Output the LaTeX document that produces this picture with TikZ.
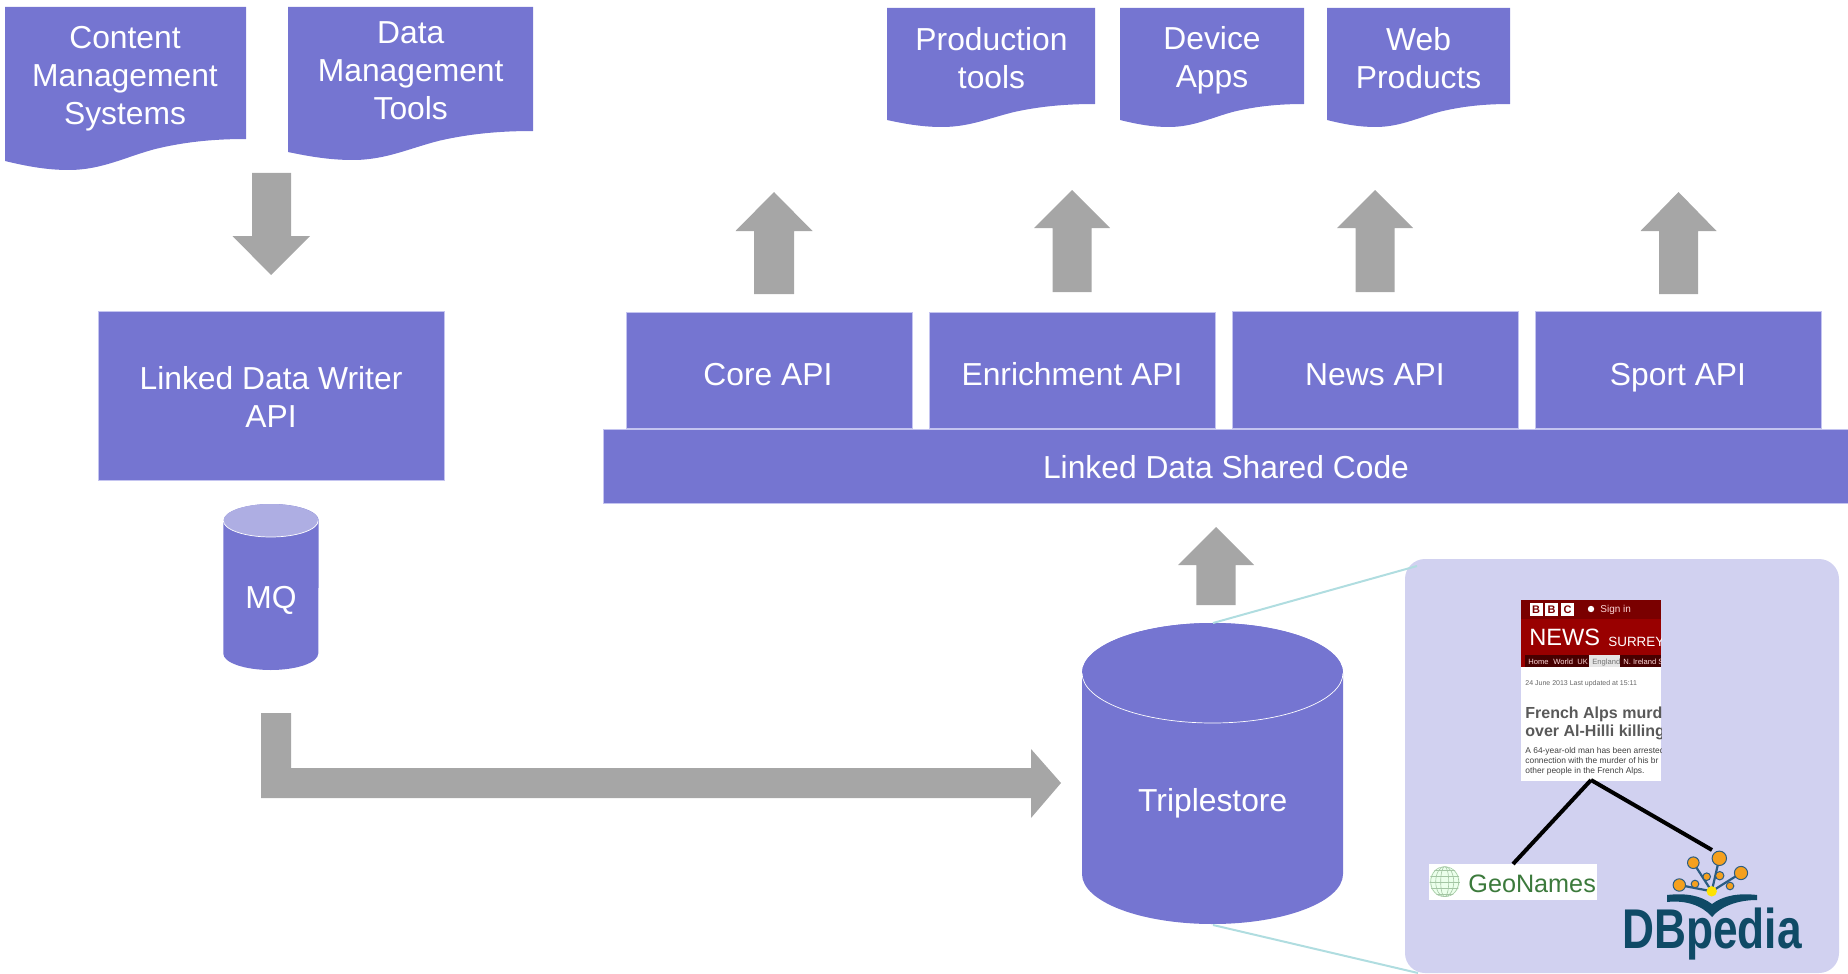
\documentclass[tikz,border=0pt]{standalone}
\usepackage{fontspec}
\setmainfont{Liberation Sans}
\definecolor{pur}{HTML}{7575D1}
\definecolor{purlight}{HTML}{AEAEE3}
\definecolor{edge}{HTML}{C4C4F0}
\definecolor{panelc}{HTML}{D1D1F0}
\definecolor{arrowc}{HTML}{A6A6A6}
\definecolor{tealc}{HTML}{B0DDE0}
\definecolor{dbdark}{HTML}{0F4A66}
\definecolor{dbline}{HTML}{2B5C82}
\definecolor{dborange}{HTML}{F5A01E}
\definecolor{geogreen}{HTML}{3C7A3C}
\definecolor{geogrid}{HTML}{A4C6A4}
\tikzset{
  lbl/.style={inner sep=0pt,text=white,font=\fontsize{15.9}{19}\selectfont,align=center},
  lblbase/.style={lbl,anchor=base},
  boxfill/.style={fill=pur,draw=edge,line width=.25pt},
  docfill/.style={fill=pur},
  gray arrow/.style={fill=arrowc},
  thin text/.style={inner sep=0pt,anchor=base west},
  link/.style={black,line width=2pt},
  zoomline/.style={tealc,line width=1pt},
  dbbranch/.style={dbline,line width=1.1pt},
  dbnode/.style={fill=dborange,draw=dbline,line width=.5pt}
}
\newcommand{\docshape}[6]{% x1 x2 ytop yright yleft ytrough
  \fill[docfill] (#1,#3) -- (#2,#3) -- (#2,#4)
  .. controls ({#1+.86*(#2-#1)},#4) and ({#1+.74*(#2-#1)},{#4+.1*(#6-#4)}) .. ({#1+.62*(#2-#1)},{#4+.33*(#6-#4)})
  .. controls ({#1+.5*(#2-#1)},{#4+.58*(#6-#4)}) and ({#1+.4*(#2-#1)},#6) .. ({#1+.265*(#2-#1)},#6)
  .. controls ({#1+.18*(#2-#1)},#6) and ({#1+.1*(#2-#1)},{#5+.65*(#6-#5)}) .. (#1,#5) -- cycle;}
\newcommand{\blockup}[6]{% cx tip base bottom headhalf shafthalf
  \fill[gray arrow] (#1,#2) -- ({#1+#5},#3) -- ({#1+#6},#3) -- ({#1+#6},#4) -- ({#1-#6},#4) -- ({#1-#6},#3) -- ({#1-#5},#3) -- cycle;}
\newcommand{\drum}[7]{% cx ytopcentre ybottomcentre rx(px) Rx(pt) Ry(pt) topcolour
  \fill[pur] ({#1-#4},#2) -- ({#1-#4},#3) arc[start angle=180,end angle=360,x radius=#5,y radius=#6] -- ({#1+#4},#2) arc[start angle=0,end angle=180,x radius=#5,y radius=#6] -- cycle;
  \fill[#7] (#1,#2) ellipse[x radius=#5,y radius=#6];
  \draw[white,line width=.35pt] ({#1-#4},#2) arc[start angle=180,end angle=360,x radius=#5,y radius=#6];}
\begin{document}
\begin{tikzpicture}[x=.5pt,y=-.5pt]
\useasboundingbox (0,0) rectangle (1848,974);
% top-left documents
\docshape{5}{246}{7}{139}{161}{170}
\node[lbl] (cms) at (125,78.5) {Content\\Management\\Systems};
\docshape{288}{533}{7}{131}{152}{160}
\node[lbl] (dmt) at (410.7,71) {Data\\Management\\Tools};
% down arrow
\fill[gray arrow] (271,275) -- (310,236) -- (291,236) -- (291,173) -- (252,173) -- (252,236) -- (232.5,236) -- cycle;
% writer
\draw[boxfill] (98,311) rectangle (444,480);
\node[lbl] (writer) at (271,397.2) {Linked Data Writer\\API};
% MQ
\drum{271}{520.5}{653.5}{47.75}{23.75pt}{8.25pt}{purlight}
\node[lblbase] (mq) at (271,608) {MQ};
% L arrow
\fill[gray arrow] (261,713) -- (291,713) -- (291,768) -- (1031,768) -- (1031,749) -- (1061,783) -- (1031,818) -- (1031,798) -- (261,798) -- cycle;
% top-right documents
\docshape{887}{1095}{8}{104}{120}{127}
\node[lbl] (prod) at (991.5,57.7) {Production\\tools};
\docshape{1120}{1304}{8}{104}{120}{127}
\node[lbl] (dev) at (1212,60.2) {Device\\Apps};
\docshape{1327}{1510}{8}{104}{120}{127}
\node[lbl] (web) at (1418.6,57.7) {Web\\Products};
% up arrows
\blockup{774}{192}{231}{294}{38.5}{20}
\blockup{1072}{190}{228}{292}{38}{19.5}
\blockup{1375}{190}{228}{292}{38}{19.5}
\blockup{1678.5}{192}{231}{294}{38}{19.5}
\blockup{1216}{527}{565}{605}{38}{19.7}
% APIs
\draw[boxfill] (626,312) rectangle (912.5,428);
\node[lblbase] (core) at (768,385) {Core API};
\draw[boxfill] (929,312) rectangle (1215,428);
\node[lblbase] (enrich) at (1072,385) {Enrichment API};
\draw[boxfill] (1232,311) rectangle (1518,428);
\node[lblbase] (news) at (1375,385) {News API};
\draw[boxfill] (1535,311) rectangle (1821.5,428);
\node[lblbase] (sport) at (1678,385) {Sport API};
\draw[boxfill] (603.5,429) rectangle (1860,503);
\node[lblbase] (shared) at (1226,478) {Linked Data Shared Code};
% panel
\fill[panelc,rounded corners=10pt] (1405,559) rectangle (1839,973);
% triplestore
\drum{1212.5}{673}{874}{130.5}{65.25pt}{25pt}{pur}
\node[lblbase] (ts) at (1212.7,811) {Triplestore};
% zoom lines
\coordinate (tstop) at (1213,623);
\coordinate (tsbot) at (1213,925);
\coordinate (paneltop) at (1417,566);
\coordinate (panelbot) at (1418,973);
\draw[zoomline] (tstop) -- (paneltop);
\draw[zoomline] (tsbot) -- (panelbot);
% BBC page
\fill[white] (1521,600) rectangle (1661,781);
\begin{scope}
\clip (1521,600) rectangle (1661,781);
\fill[red!48!black] (1521,600) rectangle (1661,619);
\fill[red!60!black] (1521,619) rectangle (1661,667);
\fill[red!28!black] (1525,655) rectangle (1661,667);
\fill[black!10] (1589,655) rectangle (1620,667);
\foreach \xx/\ll in {1529.5/B,1545/B,1561/C}{
  \fill[white] (\xx,603) rectangle ({\xx+13},616);
  \node[thin text,anchor=base,text=red!48!black,font=\bfseries\fontsize{5.5}{6}\selectfont] at ({\xx+6.5},613.5) {\ll};}
\fill[white] (1591,609) circle[radius=1.6pt];
\node[thin text,text=white!85!red,font=\fontsize{5}{6}\selectfont] (signin) at (1600,612) {Sign in};
\node[thin text,text=white,font=\fontsize{11.8}{13}\selectfont] (bbcnews) at (1529,645) {NEWS};
\node[thin text,text=white,font=\fontsize{6.7}{9}\selectfont] (surrey) at (1608,646) {SURREY};
\foreach \xx/\ll in {1528/Home,1553/World,1577/UK,1623/N. Ireland,1658/S}{
  \node[thin text,text=white!85!red,font=\fontsize{3.8}{5}\selectfont] at (\xx,664) {\ll};}
\node[thin text,text=black!55,font=\fontsize{3.8}{5}\selectfont] at (1592,664) {England};
\node[thin text,text=black!60,font=\fontsize{3.5}{5}\selectfont] (bbcdate) at (1525,685) {24 June 2013 Last updated at 15:11};
\node[thin text,text=black!65,font=\bfseries\fontsize{8}{10}\selectfont] (head1) at (1525,718) {French Alps murd};
\node[thin text,text=black!65,font=\bfseries\fontsize{8}{10}\selectfont] (head2) at (1525,736) {over Al-Hilli killing};
\node[thin text,text=black!75,font=\fontsize{4.2}{5}\selectfont] (body1) at (1525,753) {A 64-year-old man has been arrested};
\node[thin text,text=black!75,font=\fontsize{4.2}{5}\selectfont] (body2) at (1525,763) {connection with the murder of his br};
\node[thin text,text=black!75,font=\fontsize{4.2}{5}\selectfont] (body3) at (1525,773) {other people in the French Alps.};
\end{scope}
% GeoNames
\fill[white] (1429,864) rectangle (1597,900);
\begin{scope}
\clip (1444.7,881.7) circle[radius=7.6pt];
\fill[green!8!white] (1429,864) rectangle (1461,900);
\foreach \rr in {2,4.5,7}{\draw[geogrid,line width=.3pt] (1444.7,881.7) ellipse[x radius=\rr pt,y radius=7.6pt];}
\foreach \yy in {870,876,882,888,894}{\draw[geogrid,line width=.3pt] (1429,\yy) -- (1461,\yy);}
\end{scope}
\node[thin text,text=geogreen,font=\fontsize{12.6}{14}\selectfont] (geo) at (1468,892) {GeoNames};
% DBpedia
\coordinate (root) at (1711.7,891.3);
\foreach \xx/\yy in {1719.3/858.3,1693.3/862.7,1741/873,1679.3/885}{\draw[dbbranch] (root) -- (\xx,\yy);}
\foreach \xx/\yy/\rr in {1719.3/858.3/3.6,1693.3/862.7/2.9,1741/873/3.3,1679.3/885/3.1,1695/884/1.9,1706.7/876.7/1.9,1719.7/875.7/2.1,1730/886/1.9}{
  \fill[dbnode] (\xx,\yy) circle[radius=\rr pt];}
\fill[yellow!85!orange] (root) circle[radius=2.6pt];
\fill[dbdark] (1667,895) .. controls (1685,893) and (1700,895) .. (1712,904) .. controls (1724,895) and (1740,893) .. (1757,895) -- (1757,900) .. controls (1740,900) and (1722,905) .. (1712,917) .. controls (1702,905) and (1685,900) .. (1667,902) -- cycle;
\node[inner sep=0pt,anchor=base,text=dbdark,font=\bfseries\fontsize{28}{30}\selectfont,xscale=.79] (dbp) at (1712,948) {DBpedia};
% links
\coordinate (bbcfoot) at (1591,780);
\coordinate (geotop) at (1513,864);
\coordinate (dbtop) at (1712,850);
\draw[link] (bbcfoot) -- (geotop);
\draw[link] (bbcfoot) -- (dbtop);
\end{tikzpicture}
\end{document}
